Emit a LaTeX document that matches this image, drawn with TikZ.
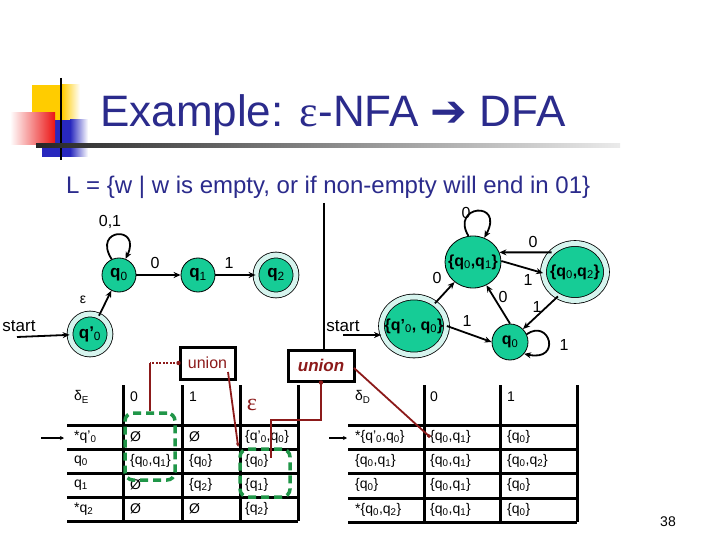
\documentclass[tikz,border=0pt]{standalone}
\usepackage{fontspec}
\setmainfont{Liberation Sans}
\newfontfamily\dejavu{DejaVu Sans}
\newfontfamily\lserif{Liberation Serif}
\usetikzlibrary{arrows.meta,shapes.geometric}
\definecolor{navy}{RGB}{43,43,140}
\definecolor{stgreen}{RGB}{22,204,150}
\definecolor{ringc}{RGB}{214,244,238}
\definecolor{dred}{RGB}{140,26,26}
\definecolor{dgreen}{RGB}{32,150,72}
\definecolor{ybox}{RGB}{255,204,0}
\definecolor{bbox}{RGB}{40,40,190}
\definecolor{rbox}{RGB}{235,20,20}
\newcommand\fs[1]{\fontsize{#1}{#1}\selectfont}
\newcommand\sbs[1]{\textsubscript{\mdseries #1}}
\begin{document}
\begin{tikzpicture}[x=1pt,y=-1pt,
  st/.style={circle,draw=black,line width=0.8pt,fill=stgreen,minimum size=34pt,inner sep=0pt,font=\fs{17}\bfseries},
  acc/.style={double=ringc,double distance=5pt},
  el/.style={ellipse,draw=black,line width=0.8pt,fill=stgreen,inner sep=0pt,font=\fs{16}\bfseries},
  tr/.style={-{Stealth[length=7pt,width=6pt]},line width=1.8pt},
  lab/.style={font=\fs{16},inner sep=0pt},
  tline/.style={line width=3pt},
  tx/.style={anchor=west,font=\fs{14},inner sep=0pt},
  gbox/.style={draw=dgreen,line width=3.5pt,dash pattern=on 8pt off 5pt,rounded corners=8pt},
  rl/.style={draw=dred,line width=1.8pt},
  ubox/.style={draw=black,line width=3pt,inner sep=0pt,text=dred}
]
\useasboundingbox (0,0) rectangle (720,540);
\fill[white] (0,0) rectangle (720,540);
% decoration
\fill[ybox] (32,85) rectangle (62,120);
\shade[left color=ybox,right color=white] (62,85) rectangle (80,120);
\fill[bbox] (42,120) rectangle (70,157);
\shade[left color=bbox,right color=white] (70,120) rectangle (88,157);
\shade[left color=white,right color=rbox] (10,113) rectangle (55,145);
\draw[line width=2.5pt] (61,78) -- (61,160);
\shade[left color=black!85,right color=black!8] (36,144) rectangle (620,148);
% title
\node[anchor=base west,inner sep=0pt,text=navy,font=\fs{44}] (title) at (100,127) {Example: {\lserif ε}-NFA {\dejavu ➔} DFA};
\node[anchor=base west,inner sep=0pt,text=navy,font=\fs{24}] (subt) at (66,194) {L = \{w | w is empty, or if non-empty will end in 01\}};
% NFA
\node[st] (q0) at (119,275) {q\sbs{0}};
\node[st] (q1) at (198,275) {q\sbs{1}};
\node[st,acc,minimum size=40pt] (q2) at (276,275) {q\sbs{2}};
\node[st,acc,minimum size=40pt] (qs) at (90,334) {q'\sbs{0}};
\coordinate (s1) at (17,337);
\node[lab,font=\fs{17}] (st1) at (19,326) {start};
\draw[tr] (s1) -- (qs);
\draw[tr] (qs) -- (q0);
\node[lab,font=\fs{14}] (le) at (83,300) {ε};
\draw[tr] (q0.115) .. controls (92,228) and (142,225) .. (q0.68);
\node[lab] (l01) at (110,222) {0,1};
\draw[tr] (q0) -- (q1);
\node[lab] (la) at (155,263) {0};
\draw[tr] (q1) -- (q2);
\node[lab] (lb) at (229,263) {1};
% DFA
\node[el,minimum width=56pt,minimum height=52pt] (d01) at (473,262) {\makebox[0pt]{\{q\sbs{0},q\sbs{1}\}}};
\node[el,acc,minimum width=63pt,minimum height=57pt] (d02) at (575,272) {\makebox[0pt]{\{q\sbs{0},q\sbs{2}\}}};
\node[el,acc,minimum width=65pt,minimum height=58pt] (ds) at (414,326) {\makebox[0pt]{\{q'\sbs{0}, q\sbs{0}\}}};
\node[st,minimum size=36pt,font=\fs{16}\bfseries] (dq0) at (510,342) {q\sbs{0}};
\coordinate (s2) at (343,335);
\node[lab,font=\fs{17}] (st2) at (343,326) {start};
\draw[tr] (s2) -- (s2 -| ds.west);
\draw[tr] (ds) -- (d01);
\node[lab] (m1) at (437,278) {0};
\draw[tr] (ds.0) -- (dq0.180);
\node[lab] (m2) at (467,321) {1};
\draw[tr] (dq0.north) -- (d01.-60);
\node[lab] (m3) at (503,297) {0};
\draw[tr] (d01.2) -- (d02.182);
\node[lab] (m4) at (528,280) {1};
\draw[tr] (d02.140) -- (d01.20);
\node[lab] (m5) at (533,242) {0};
\draw[tr] (d02.235) -- (dq0.45);
\node[lab] (m6) at (537,307) {1};
\draw[tr] (dq0.25) .. controls (550,318) and (562,362) .. (dq0.-40);
\node[lab] (m7) at (564,345) {1};
\draw[tr] (d01.100) .. controls (450,205) and (505,200) .. (d01.65);
\node[lab] (m8) at (466,213) {0};
% union boxes and separator
\node[ubox,minimum width=55pt,minimum height=32pt,font=\fs{16}] (u1) at (207.5,363) {union};
\node[ubox,minimum width=66pt,minimum height=31pt,font=\fs{17}\bfseries\itshape] (u2) at (321,365.5) {union};
\coordinate (vtop) at (324,203);
\draw[line width=1.2pt] (vtop) -- (vtop |- u2.north);
% tables
\foreach \y in {425,449,473,497,521} \draw[tline] (67,\y) -- (298,\y);
\foreach \x in {123,182,240,298} \draw[tline] (\x,385) -- (\x,521);
\foreach \y in {425,449,473,498,522} \draw[tline] (348,\y) -- (577,\y);
\foreach \x in {424,500,577} \draw[tline] (\x,385) -- (\x,522);
\coordinate (a1) at (41,438);
\coordinate (a2) at (329,438);
\draw[-{Stealth[length=4pt,width=4pt]},line width=1.4pt] (a1) -- ++(23,0);
\draw[-{Stealth[length=4pt,width=4pt]},line width=1.4pt] (a2) -- ++(18,0);
% left table text
\node[tx] (e00) at (74,397) {δ\textsubscript{E}};
\node[tx] (e01) at (130,397) {0};
\node[tx] (e02) at (189,397) {1};
\node[text=dred,font=\lserif\fs{24},inner sep=0pt] (eps) at (252,405) {ε};
\node[tx] (e10) at (74,437) {*q'\sbs{0}};
\node[tx] (e11) at (130,437) {Ø};
\node[tx] (e12) at (189,437) {Ø};
\node[tx] (e13) at (245,437) {\{q'\sbs{0},q\sbs{0}\}};
\node[tx] (e20) at (74,461) {q\sbs{0}};
\node[tx] (e21) at (130,461) {\{q\sbs{0},q\sbs{1}\}};
\node[tx] (e22) at (189,461) {\{q\sbs{0}\}};
\node[tx] (e23) at (245,461) {\{q\sbs{0}\}};
\node[tx] (e30) at (74,485) {q\sbs{1}};
\node[tx] (e31) at (130,485) {Ø};
\node[tx] (e32) at (189,485) {\{q\sbs{2}\}};
\node[tx] (e33) at (245,485) {\{q\sbs{1}\}};
\node[tx] (e40) at (74,509) {*q\sbs{2}};
\node[tx] (e41) at (130,509) {Ø};
\node[tx] (e42) at (189,509) {Ø};
\node[tx] (e43) at (245,509) {\{q\sbs{2}\}};
% right table text
\node[tx] (f00) at (355,397) {δ\textsubscript{D}};
\node[tx] (f01) at (430,397) {0};
\node[tx] (f02) at (507,397) {1};
\node[tx] (f10) at (355,437) {*\{q'\sbs{0},q\sbs{0}\}};
\node[tx] (f11) at (430,437) {\{q\sbs{0},q\sbs{1}\}};
\node[tx] (f12) at (507,437) {\{q\sbs{0}\}};
\node[tx] (f20) at (355,461) {\{q\sbs{0},q\sbs{1}\}};
\node[tx] (f21) at (430,461) {\{q\sbs{0},q\sbs{1}\}};
\node[tx] (f22) at (507,461) {\{q\sbs{0},q\sbs{2}\}};
\node[tx] (f30) at (355,485) {\{q\sbs{0}\}};
\node[tx] (f31) at (430,485) {\{q\sbs{0},q\sbs{1}\}};
\node[tx] (f32) at (507,485) {\{q\sbs{0}\}};
\node[tx] (f40) at (355,510) {*\{q\sbs{0},q\sbs{2}\}};
\node[tx] (f41) at (430,510) {\{q\sbs{0},q\sbs{1}\}};
\node[tx] (f42) at (507,510) {\{q\sbs{0}\}};
% green dashed boxes
\node[gbox,minimum width=50pt,minimum height=67pt] (g1) at (150,446.5) {};
\node[gbox,minimum width=50pt,minimum height=48pt] (g2) at (265,473) {};
% red connectors
\coordinate (r1) at (g1.north |- u1.west);
\draw[rl,dash pattern=on 2pt off 1.5pt] (u1.west) -- (r1);
\draw[rl] (r1) -- (g1.north);
\fill[dred] (u1.west) circle (2.2pt);
\coordinate (r2) at (228,372);
\draw[rl,-{Latex[length=4pt,width=4pt]}] (r2) -- (g2.north west);
\coordinate (r3a) at (321,420);
\coordinate (r3b) at (271,420);
\coordinate (r3c) at (271,458);
\draw[rl] (u2.south) -- (r3a) -- (r3b) -- (r3c);
\fill[dred] (u2.south) circle (2.2pt);
\coordinate (r4s) at (354,368);
\coordinate (r4e) at (430,437);
\draw[rl,-{Square[length=3pt,width=3pt]}] (r4s) -- (r4e);
\node[font=\fs{14},inner sep=0pt] (pg) at (668,522) {38};
\end{tikzpicture}
\end{document}
